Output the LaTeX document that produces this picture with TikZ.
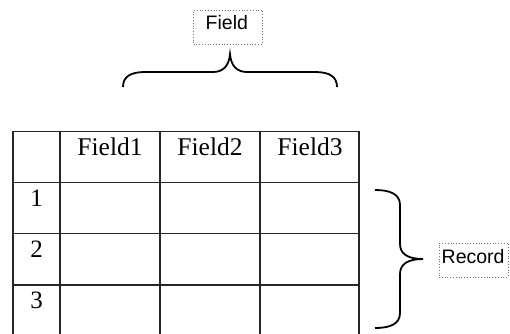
\documentclass[tikz,border=0pt]{standalone}
\usepackage{fontspec}
\setmainfont{Liberation Serif}
\newfontfamily\lblfont{Liberation Sans}
\begin{document}
\begin{tikzpicture}[x=1pt,y=-1pt,
  grid/.style={draw=black!85,line width=1.1pt},
  lbl/.style={draw=black!55,dotted,line width=0.8pt,inner sep=0pt,minimum width=69pt,minimum height=34pt},
  lbltext/.style={font=\lblfont\fontsize{19.5}{21}\selectfont,anchor=base west,inner sep=0pt},
  head/.style={font=\fontsize{25.5}{27}\selectfont,anchor=base},
  num/.style={font=\fontsize{25}{27}\selectfont,anchor=base},
  bracestroke/.style={draw=black,line width=1.8pt}]
\useasboundingbox (0,0) rectangle (510,333);
% table
\draw[grid] (13,336) -- (13,131.5) -- (359,131.5) -- (359,336);
\draw[grid] (60,131.5) -- (60,336);
\draw[grid] (160,131.5) -- (160,336);
\draw[grid] (260,131.5) -- (260,336);
\draw[grid] (13,182.7) -- (359,182.7);
\draw[grid] (13,233.5) -- (359,233.5);
\draw[grid] (13,285) -- (359,285);
\node[head] (f1) at (110,155) {Field1};
\node[head] (f2) at (210,155) {Field2};
\node[head] (f3) at (310,155) {Field3};
\node[num] (r1) at (36.5,206) {1};
\node[num] (r2) at (36.5,257) {2};
\node[num] (r3) at (36.5,308.5) {3};
% labels
\node[lbl] (field) at (228,27) {};
\node[lbltext] (fieldt) at (205.5,29.5) {Field};
\node[lbl] (record) at (473.5,260) {};
\node[lbltext] (recordt) at (441.5,263) {Record};
% top brace
\draw[bracestroke] (123,87) .. controls (123,77) and (130,72) .. (145,72)
  -- (213,72) .. controls (223,72) and (229,66) .. (230,54)
  .. controls (231,66) and (237,72) .. (247,72)
  -- (315,72) .. controls (330,72) and (337,77) .. (337,87);
% right brace
\draw[bracestroke] (375,190) .. controls (390,190) and (400,194) .. (400,205)
  -- (400,244) .. controls (400,254) and (408,259) .. (423,259)
  .. controls (408,259) and (400,264) .. (400,274)
  -- (400,313) .. controls (400,324) and (390,328) .. (375,328);
\end{tikzpicture}
\end{document}
